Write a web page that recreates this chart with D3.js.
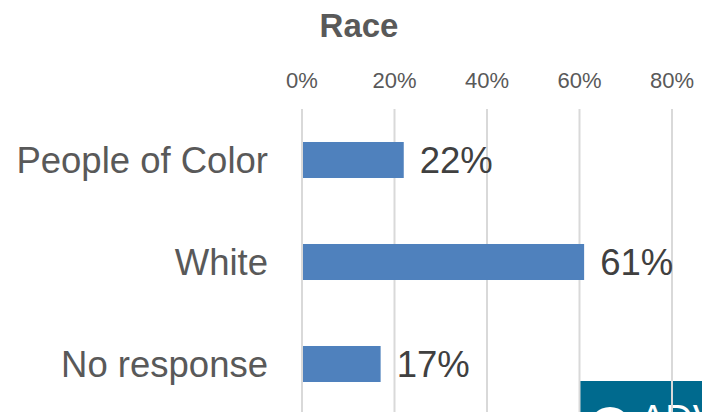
<!DOCTYPE html>
<html>
<head>
<meta charset="utf-8">
<script src="https://cdn.jsdelivr.net/npm/d3@7"></script>
<style>
  html, body { margin: 0; padding: 0; background: #fff; }
  svg { display: block; font-family: Arial, "Liberation Sans", sans-serif; }
</style>
</head>
<body>
<svg id="chart" width="702" height="412"></svg>
<script>
const title = "Race";
const categories = ["People of Color", "White", "No response"];
const values = [0.22, 0.61, 0.17];
const valueLabels = ["22%", "61%", "17%"];
const tickValues = [0, 0.2, 0.4, 0.6, 0.8];
const tickLabels = ["0%", "20%", "40%", "60%", "80%"];

const svg = d3.select("#chart");
const W = 702, H = 412;

const x = d3.scaleLinear().domain([0, 0.8]).range([302, 672]);
const y = d3.scaleBand().domain(categories).range([109, 415])
  .paddingInner(0.647).paddingOuter(0.3235);

// logo box (beneath gridlines)
const clip = svg.append("defs").append("clipPath").attr("id", "logoClip");
clip.append("rect").attr("x", 580).attr("y", 381).attr("width", W - 580).attr("height", H - 381);
const logo = svg.append("g").attr("clip-path", "url(#logoClip)");
logo.append("rect").attr("x", 580).attr("y", 381).attr("width", W - 580).attr("height", H - 381)
  .attr("fill", "#006a8e");
logo.append("circle").attr("cx", 610).attr("cy", 428).attr("r", 21).attr("fill", "#ffffff");
logo.append("text").attr("x", 640).attr("y", 432).attr("fill", "#ffffff")
  .attr("font-size", 38).attr("font-weight", "normal").text("ADV");

// gridlines
svg.append("g").selectAll("line").data(tickValues).join("line")
  .attr("x1", d => x(d)).attr("x2", d => x(d))
  .attr("y1", 109).attr("y2", H)
  .attr("stroke", "#d9d9d9").attr("stroke-width", 2);

// top axis tick labels
svg.append("g").selectAll("text").data(tickValues).join("text")
  .attr("x", d => x(d)).attr("y", 88)
  .attr("text-anchor", "middle").attr("font-size", 22).attr("fill", "#595959")
  .text((d, i) => tickLabels[i]);

// title
svg.append("text").attr("x", 359).attr("y", 37).attr("text-anchor", "middle")
  .attr("font-size", 33).attr("font-weight", "bold").attr("fill", "#595959").text(title);

// bars
svg.append("g").selectAll("rect").data(categories).join("rect")
  .attr("x", x(0) + 1).attr("y", d => y(d))
  .attr("width", (d, i) => x(values[i]) - x(0) - 1)
  .attr("height", y.bandwidth())
  .attr("fill", "#4f81bd");

// category labels
svg.append("g").selectAll("text").data(categories).join("text")
  .attr("x", 268).attr("y", d => y(d) + y.bandwidth() / 2)
  .attr("dy", "0.36em").attr("text-anchor", "end")
  .attr("font-size", 36.5).attr("fill", "#595959").text(d => d);

// value labels
svg.append("g").selectAll("text").data(categories).join("text")
  .attr("x", (d, i) => x(values[i]) + 16).attr("y", d => y(d) + y.bandwidth() / 2)
  .attr("dy", "0.36em").attr("text-anchor", "start")
  .attr("font-size", 36.5).attr("fill", "#404040").text((d, i) => valueLabels[i]);
</script>
</body>
</html>
